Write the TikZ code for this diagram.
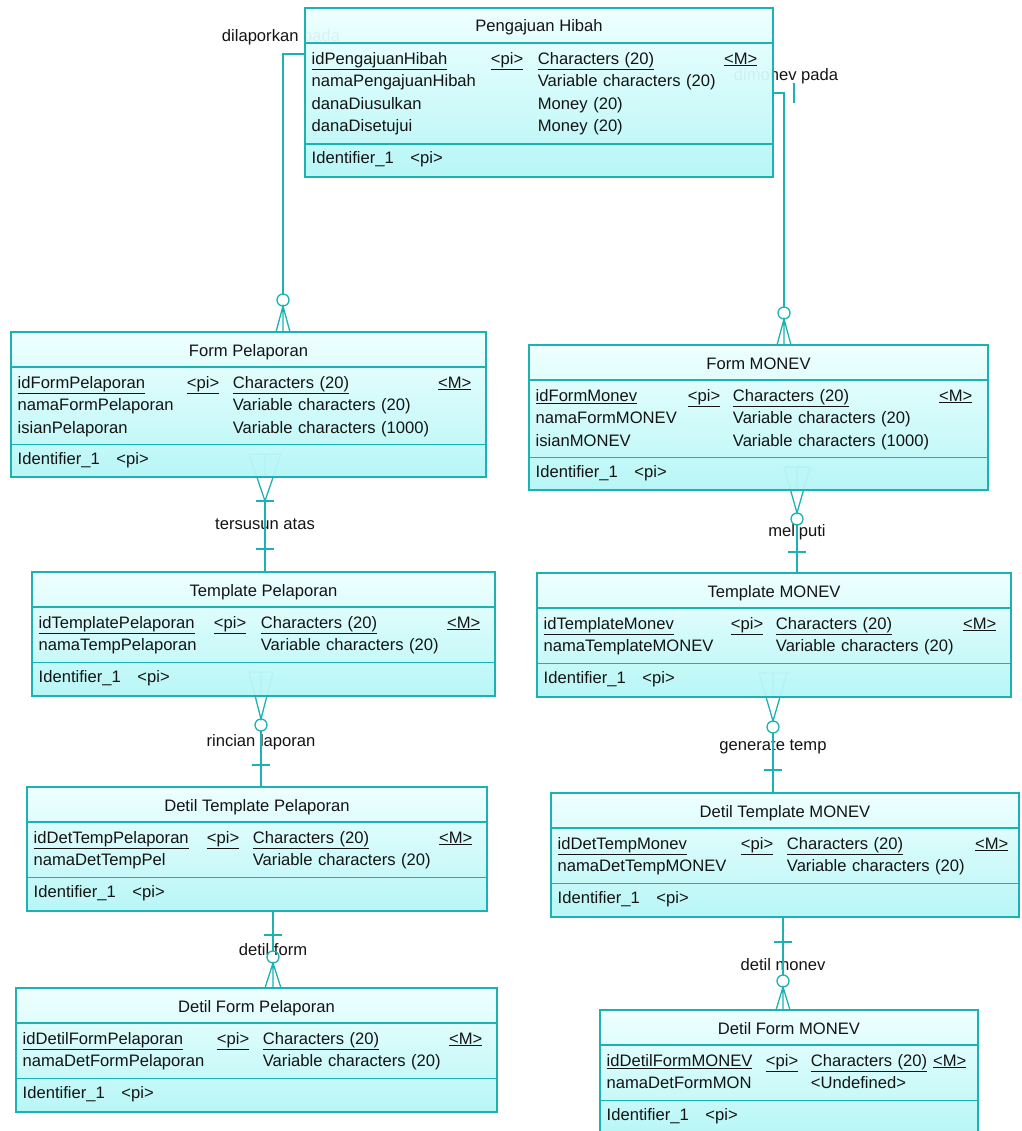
\documentclass[tikz,border=0pt]{standalone}
\usepackage{fontspec}
\setmainfont{Liberation Sans}
\usetikzlibrary{matrix}
\pgfdeclarelayer{bg}
\pgfsetlayers{bg,main}
\definecolor{erLine}{RGB}{28,178,178}
\definecolor{erLight}{RGB}{238,255,255}
\definecolor{erDark}{RGB}{180,246,246}
\definecolor{erText}{RGB}{20,20,20}
\newcommand{\erfont}{\fontsize{16.6}{19}\selectfont}
\begin{document}
\begin{tikzpicture}[x=1pt,y=-1pt,font=\erfont,
  erent/.style 2 args={draw=erLine,line width=1.8pt,top color=erLight,bottom color=erDark,
    fill opacity=0.95,minimum width=#1pt,minimum height=#2pt,anchor=north west,inner sep=0pt,outer sep=0pt},
  erline/.style={draw=erLine,line width=1.8pt},
  erconn/.style={draw=erLine,line width=1.3pt},
  ertitle/.style={anchor=base,inner sep=0pt,text=erText},
  erattr/.style={anchor=base west,inner sep=0pt,text height=12pt,text depth=3.5pt,text=erText},
  erlabel/.style={inner sep=1pt,text=erText},
  erattrs/.style n args={3}{matrix of nodes,anchor=north west,inner sep=0pt,row sep=7pt,column sep=0pt,
    nodes={erattr},
    column 1/.style={nodes={text width=#1}},
    column 2/.style={nodes={text width=#2}},
    column 3/.style={nodes={text width=#3}}}]
    \newcommand{\erparts}[3]{
        \node[ertitle] (#1-t) at ([yshift=-24pt]#1.north) {#2};
        \draw[erline] ([yshift=-35pt]#1.north west) -- ([yshift=-35pt]#1.north east);
        \draw[erline] ([yshift=-#3pt]#1.north west) -- ([yshift=-#3pt]#1.north east);
        \node[erattr] (#1-id) at ([xshift=6.5pt,yshift=-#3pt-20pt]#1.north west) {Identifier\_1\quad<pi>};
    }
\useasboundingbox (0,0) rectangle (1021,1131);

% entities
\node[erent={468}{169}] (hibah) at (305,8) {};
\node[erent={475}{145}] (formlap) at (11,332) {};
\node[erent={459}{145}] (formmon) at (529,345) {};
\node[erent={463}{124}] (templap) at (32,572) {};
\node[erent={474}{124}] (tempmon) at (537,573) {};
\node[erent={460}{124}] (dtlap) at (27,787) {};
\node[erent={468}{124}] (dtmon) at (551,793) {};
\node[erent={481}{124}] (dflap) at (16,988) {};
\node[erent={378}{124}] (dfmon) at (600,1010) {};

\erparts{hibah}{Pengajuan Hibah}{136}
\matrix[erattrs={179pt}{47pt}{186pt}] (hibah-m) at ([xshift=6.5pt,yshift=-44pt]hibah.north west) {
  \underline{idPengajuanHibah} & \underline{<pi>} & \underline{Characters (20)} & \underline{<M>} \\
  namaPengajuanHibah & & Variable characters (20) & \\
  danaDiusulkan & & Money (20) & \\
  danaDisetujui & & Money (20) & \\
};

\erparts{formlap}{Form Pelaporan}{112.5}
\matrix[erattrs={169pt}{46pt}{205pt}] (formlap-m) at ([xshift=6.5pt,yshift=-44pt]formlap.north west) {
  \underline{idFormPelaporan} & \underline{<pi>} & \underline{Characters (20)} & \underline{<M>} \\
  namaFormPelaporan & & Variable characters (20) & \\
  isianPelaporan & & Variable characters (1000) & \\
};

\erparts{formmon}{Form MONEV}{112.5}
\matrix[erattrs={152pt}{45pt}{206pt}] (formmon-m) at ([xshift=6.5pt,yshift=-44pt]formmon.north west) {
  \underline{idFormMonev} & \underline{<pi>} & \underline{Characters (20)} & \underline{<M>} \\
  namaFormMONEV & & Variable characters (20) & \\
  isianMONEV & & Variable characters (1000) & \\
};

\erparts{templap}{Template Pelaporan}{90.5}
\matrix[erattrs={175pt}{47pt}{186pt}] (templap-m) at ([xshift=6.5pt,yshift=-44pt]templap.north west) {
  \underline{idTemplatePelaporan} & \underline{<pi>} & \underline{Characters (20)} & \underline{<M>} \\
  namaTempPelaporan & & Variable characters (20) & \\
};

\erparts{tempmon}{Template MONEV}{90.5}
\matrix[erattrs={187pt}{45pt}{187pt}] (tempmon-m) at ([xshift=6.5pt,yshift=-44pt]tempmon.north west) {
  \underline{idTemplateMonev} & \underline{<pi>} & \underline{Characters (20)} & \underline{<M>} \\
  namaTemplateMONEV & & Variable characters (20) & \\
};

\erparts{dtlap}{Detil Template Pelaporan}{90.5}
\matrix[erattrs={173pt}{46pt}{186pt}] (dtlap-m) at ([xshift=6.5pt,yshift=-44pt]dtlap.north west) {
  \underline{idDetTempPelaporan} & \underline{<pi>} & \underline{Characters (20)} & \underline{<M>} \\
  namaDetTempPel & & Variable characters (20) & \\
};

\erparts{dtmon}{Detil Template MONEV}{90.5}
\matrix[erattrs={183pt}{46pt}{188pt}] (dtmon-m) at ([xshift=6.5pt,yshift=-44pt]dtmon.north west) {
  \underline{idDetTempMonev} & \underline{<pi>} & \underline{Characters (20)} & \underline{<M>} \\
  namaDetTempMONEV & & Variable characters (20) & \\
};

\erparts{dflap}{Detil Form Pelaporan}{90.5}
\matrix[erattrs={194pt}{46pt}{186pt}] (dflap-m) at ([xshift=6.5pt,yshift=-44pt]dflap.north west) {
  \underline{idDetilFormPelaporan} & \underline{<pi>} & \underline{Characters (20)} & \underline{<M>} \\
  namaDetFormPelaporan & & Variable characters (20) & \\
};

\erparts{dfmon}{Detil Form MONEV}{90.5}
\matrix[erattrs={159pt}{45pt}{122pt}] (dfmon-m) at ([xshift=6.5pt,yshift=-44pt]dfmon.north west) {
  \underline{idDetilFormMONEV} & \underline{<pi>} & \underline{Characters (20)} & \underline{<M>} \\
  namaDetFormMON & & <Undefined> & \\
};

% relationships, under the entities
\begin{pgfonlayer}{bg}
% dilaporkan pada
\node[erlabel] (lapLbl) at ([xshift=-24pt,yshift=-29pt]hibah.north west) {dilaporkan pada};
\coordinate (lapO) at ([xshift=34.5pt,yshift=32pt]formlap.north);
\coordinate (lapF) at (formlap.north -| lapO);
\draw[erconn] ([yshift=-46pt]hibah.north west) -| ([yshift=6pt]lapO);
\draw[erconn] (lapO) circle (6pt);
\draw[erconn] ([xshift=-7pt]lapF) -- ([yshift=-6pt]lapO) -- ([xshift=7pt]lapF) (lapF) -- ([yshift=-6pt]lapO);

% dimonev pada
\node[erlabel] (monLbl) at ([xshift=13pt,yshift=-68pt]hibah.north east) {dimonev pada};
\coordinate (monS) at ([yshift=-85pt]hibah.north east);
\coordinate (monO) at ([xshift=25.5pt,yshift=32pt]formmon.north);
\coordinate (monF) at (formmon.north -| monO);
\draw[erconn] (monS) -| ([yshift=6pt]monO);
\draw[erconn] ([xshift=21pt,yshift=10pt]monS) -- ([xshift=21pt,yshift=-10pt]monS);
\draw[erconn] (monO) circle (6pt);
\draw[erconn] ([xshift=-7pt]monF) -- ([yshift=-6pt]monO) -- ([xshift=7pt]monF) (monF) -- ([yshift=-6pt]monO);

% tersusun atas
\coordinate (susT) at ([xshift=16.5pt,yshift=-24pt]formlap.south);
\node[erlabel] (susLbl) at ([yshift=-23pt]susT) {tersusun atas};
\draw[erconn] (susT) -- (templap.north -| susT);
\draw[erconn] ([xshift=-16pt,yshift=47pt]susT) -- (susT) -- ([xshift=16pt,yshift=47pt]susT) -- cycle
  ([yshift=24pt]susT) -- ([yshift=47pt]susT);
\draw[erconn] ([xshift=-9pt]susT) -- ([xshift=9pt]susT)
  ([xshift=-9pt,yshift=-48pt]susT) -- ([xshift=9pt,yshift=-48pt]susT);

% meliputi
\coordinate (melT) at ([xshift=38.5pt,yshift=-23pt]formmon.south);
\node[erlabel] (melLbl) at ([yshift=-19pt]melT) {meliputi};
\draw[erconn] ([yshift=-6pt]melT) circle (6pt);
\draw[erconn] ([yshift=-12pt]melT) -- (tempmon.north -| melT);
\draw[erconn] ([xshift=-13pt,yshift=46pt]melT) -- (melT) -- ([xshift=13pt,yshift=46pt]melT) -- cycle
  ([yshift=23pt]melT) -- ([yshift=46pt]melT);
\draw[erconn] ([xshift=-9pt,yshift=-39pt]melT) -- ([xshift=9pt,yshift=-39pt]melT);

% rincian laporan
\coordinate (rinT) at ([xshift=-2.5pt,yshift=-23pt]templap.south);
\node[erlabel] (rinLbl) at ([yshift=-23pt]rinT) {rincian laporan};
\draw[erconn] ([yshift=-6pt]rinT) circle (6pt);
\draw[erconn] ([yshift=-12pt]rinT) -- (dtlap.north -| rinT);
\draw[erconn] ([xshift=-12pt,yshift=47pt]rinT) -- (rinT) -- ([xshift=12pt,yshift=47pt]rinT) -- cycle
  ([yshift=23pt]rinT) -- ([yshift=47pt]rinT);
\draw[erconn] ([xshift=-9pt,yshift=-46pt]rinT) -- ([xshift=9pt,yshift=-46pt]rinT);

% generate temp
\coordinate (genT) at ([xshift=-1pt,yshift=-24pt]tempmon.south);
\node[erlabel] (genLbl) at ([yshift=-26pt]genT) {generate temp};
\draw[erconn] ([yshift=-6pt]genT) circle (6pt);
\draw[erconn] ([yshift=-12pt]genT) -- (dtmon.north -| genT);
\draw[erconn] ([xshift=-14pt,yshift=48pt]genT) -- (genT) -- ([xshift=14pt,yshift=48pt]genT) -- cycle
  ([yshift=24pt]genT) -- ([yshift=48pt]genT);
\draw[erconn] ([xshift=-9pt,yshift=-49pt]genT) -- ([xshift=9pt,yshift=-49pt]genT);

% detil form
\coordinate (dflO) at ([xshift=16pt,yshift=-46pt]dtlap.south);
\coordinate (dflS) at (dtlap.south -| dflO);
\coordinate (dflF) at (dflap.north -| dflO);
\node[erlabel] (dflLbl) at ([yshift=7pt]dflO) {detil form};
\draw[erconn] (dflS) -- ([yshift=6pt]dflO);
\draw[erconn] ([xshift=-9pt,yshift=-24pt]dflS) -- ([xshift=9pt,yshift=-24pt]dflS);
\draw[erconn] (dflO) circle (6pt);
\draw[erconn] ([xshift=-8pt]dflF) -- ([yshift=-6pt]dflO) -- ([xshift=8pt]dflF) (dflF) -- ([yshift=-6pt]dflO);

% detil monev
\coordinate (dfmO) at ([xshift=-2pt,yshift=-64pt]dtmon.south);
\coordinate (dfmS) at (dtmon.south -| dfmO);
\coordinate (dfmF) at (dfmon.north -| dfmO);
\node[erlabel] (dfmLbl) at ([yshift=16pt]dfmO) {detil monev};
\draw[erconn] (dfmS) -- ([yshift=6pt]dfmO);
\draw[erconn] ([xshift=-9pt,yshift=-25pt]dfmS) -- ([xshift=9pt,yshift=-25pt]dfmS);
\draw[erconn] (dfmO) circle (6pt);
\draw[erconn] ([xshift=-7pt]dfmF) -- ([yshift=-6pt]dfmO) -- ([xshift=7pt]dfmF) (dfmF) -- ([yshift=-6pt]dfmO);
\end{pgfonlayer}

\end{tikzpicture}
\end{document}
